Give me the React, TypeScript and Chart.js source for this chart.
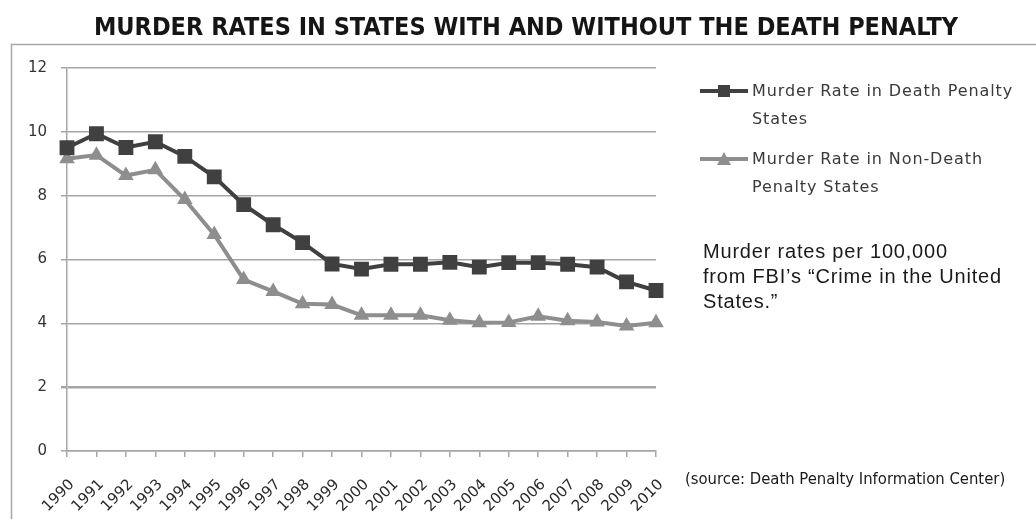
import { useEffect, useRef } from 'react';
import { Chart, registerables } from 'chart.js';

Chart.register(...registerables);

const TITLE = 'MURDER RATES IN STATES WITH AND WITHOUT THE DEATH PENALTY';
const YEARS = ['1990', '1991', '1992', '1993', '1994', '1995', '1996', '1997', '1998', '1999', '2000', '2001', '2002', '2003', '2004', '2005', '2006', '2007', '2008', '2009', '2010'];
const DEATH_PENALTY_STATES = [9.5, 9.94, 9.51, 9.69, 9.23, 8.59, 7.72, 7.09, 6.53, 5.86, 5.7, 5.85, 5.85, 5.91, 5.76, 5.9, 5.9, 5.85, 5.76, 5.3, 5.03];
const NON_DEATH_PENALTY_STATES = [9.16, 9.27, 8.63, 8.81, 7.88, 6.78, 5.37, 5.0, 4.61, 4.59, 4.25, 4.25, 4.25, 4.1, 4.02, 4.03, 4.22, 4.08, 4.04, 3.92, 4.02];
const SERIES_LABELS = ['Murder Rate in Death Penalty States', 'Murder Rate in Non-Death Penalty States'];
const LEGEND_LINES = [
  ['Murder Rate in Death Penalty', 'States'],
  ['Murder Rate in Non-Death', 'Penalty States'],
];
const NOTE_LINES = ['Murder rates per 100,000', 'from FBI\u2019s \u201cCrime in the United', 'States.\u201d'];
const SOURCE = '(source: Death Penalty Information Center)';
const Y_TICKS = [0, 2, 4, 6, 8, 10, 12];

const DARK = '#404040';
const LIGHT = '#8e8e8e';
const GRID = '#a6a6a6';

const extrasPlugin = {
  id: 'extras',
  beforeDraw(chart: any) {
    const ctx = chart.ctx;
    ctx.save();
    ctx.strokeStyle = '#a8a8a8';
    ctx.lineWidth = 1.5;
    ctx.beginPath();
    ctx.moveTo(11.5, 530);
    ctx.lineTo(11.5, 44.5);
    ctx.lineTo(1040, 44.5);
    ctx.stroke();
    ctx.restore();
  },
  afterDraw(chart: any) {
    const ctx = chart.ctx;
    ctx.save();
    // title
    ctx.fillStyle = '#151515';
    ctx.font = 'bold 25px "Liberation Sans Narrow", "DejaVu Sans Condensed", sans-serif';
    ctx.textAlign = 'center';
    ctx.textBaseline = 'alphabetic';
    ctx.fillText(TITLE, 526, 35);

    // legend
    const ds = chart.data.datasets;
    const entries = [
      { y: 91, style: 'rect' },
      { y: 159, style: 'triangle' },
    ];
    entries.forEach((e, i) => {
      ctx.strokeStyle = ds[i].borderColor;
      ctx.lineWidth = 4;
      ctx.beginPath();
      ctx.moveTo(700, e.y);
      ctx.lineTo(748, e.y);
      ctx.stroke();
      ctx.fillStyle = ds[i].backgroundColor;
      ctx.beginPath();
      if (e.style === 'rect') {
        ctx.rect(724 - 6, e.y - 6, 12, 12);
      } else {
        ctx.moveTo(724, e.y - 7);
        ctx.lineTo(731, e.y + 6);
        ctx.lineTo(717, e.y + 6);
        ctx.closePath();
      }
      ctx.fill();
      ctx.fillStyle = '#3a3a3a';
      ctx.font = '16px "DejaVu Sans", sans-serif';
      (ctx as any).letterSpacing = '0.9px';
      ctx.textAlign = 'left';
      ctx.textBaseline = 'middle';
      LEGEND_LINES[i].forEach((line, j) => {
        ctx.fillText(line, 752, e.y + 1 + j * 28);
      });
    });

    // note
    ctx.fillStyle = '#1a1a1a';
    ctx.font = '20px "Liberation Sans", sans-serif';
    (ctx as any).letterSpacing = '0.8px';
    ctx.textBaseline = 'middle';
    NOTE_LINES.forEach((line, j) => {
      ctx.fillText(line, 703, 252 + j * 25);
    });

    // source
    (ctx as any).letterSpacing = '0px';
    ctx.font = '16.5px "Liberation Sans Narrow", "DejaVu Sans Condensed", sans-serif';
    ctx.fillText(SOURCE, 685, 480);
    ctx.restore();
  },
};

export default function App() {
  const canvasRef = useRef<HTMLCanvasElement | null>(null);

  useEffect(() => {
    if (!canvasRef.current) return;
    const chart = new Chart(canvasRef.current, {
      type: 'line',
      data: {
        labels: YEARS,
        datasets: [
          {
            label: SERIES_LABELS[0],
            data: DEATH_PENALTY_STATES,
            borderColor: DARK,
            backgroundColor: DARK,
            borderWidth: 4,
            pointStyle: 'rect',
            pointRadius: 10.5,
            pointBorderWidth: 0,
            pointBackgroundColor: DARK,
            tension: 0,
          },
          {
            label: SERIES_LABELS[1],
            data: NON_DEATH_PENALTY_STATES,
            borderColor: LIGHT,
            backgroundColor: LIGHT,
            borderWidth: 4,
            pointStyle: 'triangle',
            pointRadius: 9,
            pointBorderWidth: 0,
            pointBackgroundColor: LIGHT,
            tension: 0,
          },
        ],
      },
      options: {
        responsive: false,
        animation: false,
        layout: { padding: { left: 0, top: 68, right: 380, bottom: 0 } },
        plugins: {
          legend: { display: false },
          title: { display: false },
          tooltip: { enabled: false },
        },
        scales: {
          x: {
            type: 'category',
            offset: false,
            afterFit: (s: any) => { s.height = 68; },
            grid: {
              display: true,
              drawOnChartArea: false,
              drawTicks: true,
              tickLength: 6,
              color: GRID,
              lineWidth: 1.5,
            },
            border: { display: true, color: GRID, width: 1.5 },
            ticks: {
              autoSkip: false,
              minRotation: 45,
              maxRotation: 45,
              padding: 19,
              labelOffset: 5,
              color: '#2a2a2a',
              font: { family: '"DejaVu Sans", sans-serif', size: 15 },
            },
          },
          y: {
            min: 0,
            max: 12,
            afterFit: (s: any) => { s.width = 67; },
            afterBuildTicks: (s: any) => { s.ticks = Y_TICKS.map((v) => ({ value: v })); },
            grid: {
              color: GRID,
              lineWidth: (c: any) => (c.tick && c.tick.value === 2 ? 2.5 : 1.5),
              tickLength: 6,
              drawTicks: true,
            },
            border: { display: true, color: GRID, width: 1.5 },
            ticks: {
              padding: 14,
              color: '#333333',
              font: { family: '"DejaVu Sans", sans-serif', size: 15 },
            },
          },
        },
      },
      plugins: [extrasPlugin],
    });
    return () => chart.destroy();
  }, []);

  return (
    <div style={{ position: 'fixed', left: 0, top: 0, width: 1036, height: 519, background: '#fff' }}>
      <canvas ref={canvasRef} width={1036} height={519} style={{ display: 'block' }} />
    </div>
  );
}
